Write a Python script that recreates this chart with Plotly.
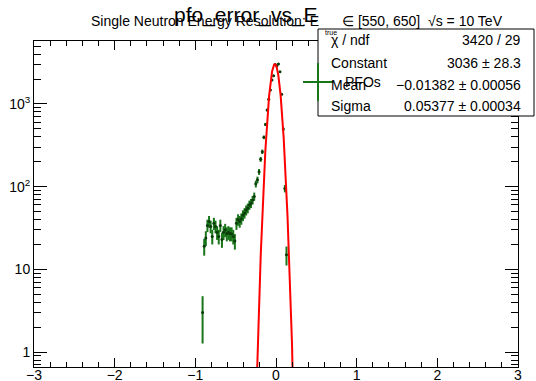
import numpy as np
import plotly.graph_objects as go

# Histogram of (E_pfo - E_true)/E_true, bin width 0.02 (only non-empty bins)
bin_centers = [-0.91, -0.89, -0.87, -0.85, -0.83, -0.81, -0.79, -0.77, -0.75, -0.73,
               -0.71, -0.69, -0.67, -0.65, -0.63, -0.61, -0.59, -0.57, -0.55, -0.53,
               -0.51, -0.49, -0.47, -0.45, -0.43, -0.41, -0.39, -0.37, -0.35, -0.33,
               -0.31, -0.29, -0.27, -0.25, -0.23, -0.21, -0.19, -0.17, -0.15, -0.13,
               -0.11, -0.09, -0.07, -0.05, -0.03, -0.01, 0.01, 0.03, 0.05, 0.07,
               0.09, 0.11, 0.13]
counts = [3, 19, 24, 34, 38, 33, 25, 36, 33, 28,
          25, 34, 23, 28, 30, 27, 28, 27, 27, 25,
          22, 36, 40, 38, 41, 45, 48, 52, 55, 60,
          63, 69, 76, 108, 121, 151, 214, 264, 395, 566,
          844, 1137, 1473, 1946, 2193, 2990, 2872, 3040, 2450, 1306,
          497, 95, 15]

# Gaussian fit results
fit_constant = 3036.0
fit_mean = -0.01382
fit_sigma = 0.05377

stat_labels = ["χ / ndf", "Constant", "Mean", "Sigma"]
stat_values = ["3420 / 29", "3036 ± 28.3", "−0.01382 ± 0.00056", "0.05377 ± 0.00034"]

x_major = [-3, -2, -1, 0, 1, 2, 3]
x_minor = [round(-3 + 0.2 * i, 1) for i in range(31) if i % 5 != 0]
y_major = [1, 10, 100, 1000]
y_major_text = ["1", "10", "10<sup>2</sup>", "10<sup>3</sup>"]
y_minor = [0.7, 0.8, 0.9] + [m * 10 ** e for e in range(0, 3) for m in range(2, 10)] + [2000, 3000, 4000, 5000]

FONT = "Liberation Sans, Arial, Helvetica, sans-serif"
W, H = 536, 381
L, R, T, B = 34, 518, 41, 367


def fx(px):
    return (px - L) / (R - L)


def fy(py):
    return (B - py) / (B - T)


errs = np.sqrt(np.array(counts, dtype=float))

fig = go.Figure()
fig.add_trace(go.Scatter(
    x=bin_centers, y=counts, mode="markers",
    marker=dict(size=3, color="#0b3b0b"),
    error_y=dict(type="data", array=errs, visible=True, color="#197519", thickness=2, width=0),
    showlegend=False, hoverinfo="skip",
))

xf = np.linspace(-0.4, 0.4, 801)
yf = fit_constant * np.exp(-0.5 * ((xf - fit_mean) / fit_sigma) ** 2)
fig.add_trace(go.Scatter(x=xf, y=yf, mode="lines", line=dict(color="#ff0000", width=2),
                         showlegend=False, hoverinfo="skip"))

axis_common = dict(showline=True, linecolor="black", linewidth=1, mirror="ticks",
                   showgrid=False, zeroline=False, ticks="inside", tickcolor="black",
                   automargin=False, tickfont=dict(family=FONT, size=14, color="black"))

fig.update_xaxes(range=[-3, 3], tickmode="array", tickvals=x_major, ticklen=9, tickwidth=1,
                 ticklabelstandoff=-5,
                 minor=dict(tickmode="array", tickvals=x_minor, ticks="inside", ticklen=5,
                            tickcolor="black", tickwidth=1),
                 **axis_common)
fig.update_yaxes(type="log", range=[-0.181, 3.761], tickmode="array", tickvals=y_major,
                 ticktext=y_major_text, ticklen=13, tickwidth=1,
                 minor=dict(tickmode="array", tickvals=y_minor, ticks="inside", ticklen=7,
                            tickcolor="black", tickwidth=1),
                 **axis_common)

ann = []
# titles
ann.append(dict(text="Single Neutron Energy Resolution: E", x=fx(89), y=fy(21), xanchor="left",
                yanchor="middle", font=dict(size=14)))
ann.append(dict(text="∈ [550, 650]", x=fx(340), y=fy(21), xanchor="left", yanchor="middle",
                font=dict(size=14)))
ann.append(dict(text="√s = 10 TeV", x=fx(426), y=fy(21), xanchor="left", yanchor="middle",
                font=dict(size=14)))
ann.append(dict(text="pfo_error_vs_E", x=fx(246), y=fy(15), xanchor="center", yanchor="middle",
                font=dict(size=21)))

shapes = []
# stats box
shapes.append(dict(type="rect", xref="paper", yref="paper", x0=fx(318), x1=fx(534), y0=fy(116), y1=fy(29),
                   line=dict(color="black", width=1), fillcolor="white", layer="above"))
rows_y = [40, 63, 85, 106]
for lab, val, ry in zip(stat_labels, stat_values, rows_y):
    ann.append(dict(text=lab, x=fx(329), y=fy(ry), xanchor="left", yanchor="middle", font=dict(size=14)))
    ann.append(dict(text=val, x=fx(523), y=fy(ry), xanchor="right", yanchor="middle", font=dict(size=14)))
ann.append(dict(text="true", x=fx(323), y=fy(33), xanchor="left", yanchor="middle", font=dict(size=7)))

# legend entry
shapes.append(dict(type="line", xref="paper", yref="paper", x0=fx(303), x1=fx(333), y0=fy(82), y1=fy(82),
                   line=dict(color="#197519", width=2), layer="above"))
shapes.append(dict(type="line", xref="paper", yref="paper", x0=fx(318), x1=fx(318), y0=fy(63), y1=fy(101),
                   line=dict(color="#197519", width=2), layer="above"))
ann.append(dict(text="PFOs", x=fx(343), y=fy(82), xanchor="left", yanchor="middle", font=dict(size=14)))

for a in ann:
    a.update(xref="paper", yref="paper", showarrow=False)

fig.update_layout(
    width=W, height=H,
    margin=dict(l=L, r=W - R, t=T, b=H - B, pad=0),
    paper_bgcolor="white", plot_bgcolor="white",
    font=dict(family=FONT, size=14, color="black"),
    annotations=ann, shapes=shapes, showlegend=False,
)

fig.write_html("out.html")
